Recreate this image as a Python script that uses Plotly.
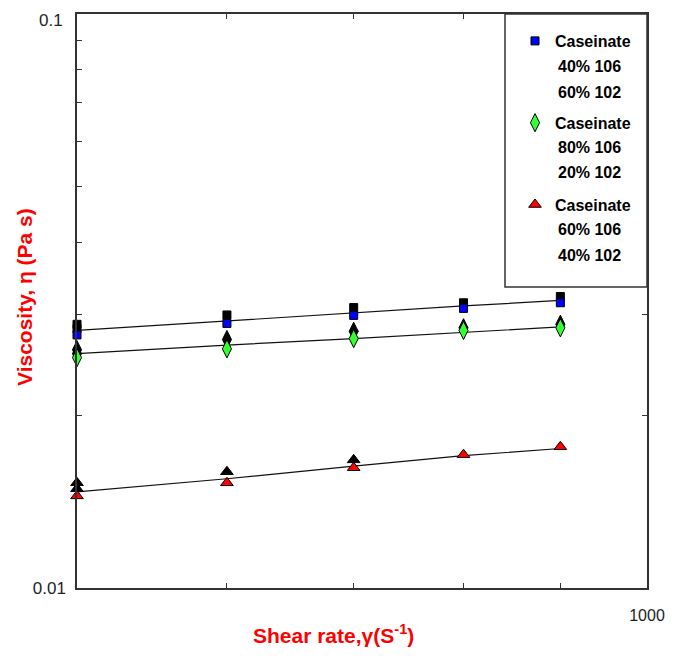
import plotly.graph_objects as go

# ---------------- data ----------------
shear_rate = [500, 600, 700, 800, 900]

# Caseinate 40% 106 / 60% 102 (blue squares)
blue_main = [0.0276, 0.0289, 0.02985, 0.0307, 0.0314]
blue_rep1 = [0.0288, 0.0299, 0.0308, 0.0314, 0.0322]
blue_rep2 = [0.0283, None, None, None, None]
blue_fit = [0.0281, 0.0292, 0.0302, 0.0310, 0.0317]

# Caseinate 80% 106 / 20% 102 (green diamonds)
green_main = [0.0252, 0.0261, 0.0272, 0.0281, 0.0284]
green_rep1 = [0.0260, 0.0271, 0.0280, 0.0284, 0.0288]
green_rep2 = [0.0256, None, None, None, None]
green_fit = [0.0256, 0.0265, 0.0272, 0.0279, 0.0285]

# Caseinate 60% 106 / 40% 102 (red triangles)
red_main = [0.01447, 0.01525, 0.0162, 0.01707, 0.01762]
red_rep1 = [0.01525, 0.01594, 0.01672, None, None]
red_rep2 = [0.01489, None, None, None, None]
red_fit = [0.0147, 0.0155, 0.0163, 0.0170, 0.0175]

legend_names = ["Caseinate", "Caseinate", "Caseinate"]
legend_sub = [["40% 106", "60% 102"], ["80% 106", "20% 102"], ["60% 106", "40% 102"]]

y_tickvals = [0.01]
y_ticktext = ["0.01"]
y_top_label = "0.1"
y_minorvals = [0.02, 0.03, 0.04, 0.05, 0.06, 0.07, 0.08, 0.09]
x_tickvals = [1000]
x_ticktext = ["1000"]
x_minorvals = [600, 700, 800, 900]

# ---------------- styling ----------------
FONT = "Liberation Sans"
series = [
    (blue_main, blue_rep1, blue_rep2, blue_fit, "square", 8, "#0000ff"),
    (green_main, green_rep1, green_rep2, green_fit, "diamond-tall", 13, "#33ff33"),
    (red_main, red_rep1, red_rep2, red_fit, "triangle-up", 11, "#ff0000"),
]

fig = go.Figure()

# fit lines
for i, (m, r1, r2, fit, sym, sz, col) in enumerate(series):
    fig.add_trace(go.Scatter(x=shear_rate, y=fit, mode="lines",
                             line=dict(color="#111111", width=1.2),
                             showlegend=False, hoverinfo="skip", cliponaxis=False))

# replicate (black) markers then coloured markers
for i, (m, r1, r2, fit, sym, sz, col) in enumerate(series):
    for rep in (r1, r2):
        fig.add_trace(go.Scatter(x=shear_rate, y=rep, mode="markers",
                                 marker=dict(symbol=sym, size=sz, color="black",
                                             line=dict(color="black", width=1)),
                                 showlegend=False, cliponaxis=False))
for i, (m, r1, r2, fit, sym, sz, col) in enumerate(series):
    fig.add_trace(go.Scatter(x=shear_rate, y=m, mode="markers", name=legend_names[i],
                             legendgroup=f"g{i}",
                             marker=dict(symbol=sym, size=sz, color=col,
                                         line=dict(color="black", width=1)),
                             cliponaxis=False))

# page body has an 8px margin: figure occupies page x 8..683, y 8..658
OFF = 8
W, H = 683 - OFF, 658 - OFF
PL, PR, PT, PB = 77, 647, 14, 588          # plot area in page pixels
L, R, T, B = PL - OFF, OFF + W - PR, PT - OFF, OFF + H - PB
pw, ph = PR - PL, PB - PT


def px(xp):
    return (xp - PL) / pw


def py(yp):
    return (PB - yp) / ph


annotations = []
# top y tick label (kept inside the page)
annotations.append(dict(x=px(65), y=py(9), xref="paper", yref="paper", text=y_top_label,
                        showarrow=False, xanchor="right", yanchor="top",
                        font=dict(family=FONT, size=17, color="#222222")))
# legend sub-lines
sub_y = [[66, 92], [147, 173], [229, 255]]
for g in range(3):
    for k in range(2):
        annotations.append(dict(x=px(556), y=py(sub_y[g][k]), xref="paper", yref="paper",
                                text=legend_sub[g][k], showarrow=False, xanchor="left",
                                yanchor="middle",
                                font=dict(family=FONT, size=16, color="black", weight="bold")))
# axis titles
annotations.append(dict(x=px(25), y=py(297), xref="paper", yref="paper",
                        text="Viscosity, η (Pa s)", textangle=-90, showarrow=False,
                        xanchor="center", yanchor="middle",
                        font=dict(family=FONT, size=21, color="#ff0000", weight="bold")))
annotations.append(dict(x=px(333), y=py(634), xref="paper", yref="paper",
                        text="Shear rate,γ(S<sup>-1</sup>)", showarrow=False,
                        xanchor="center", yanchor="middle",
                        font=dict(family=FONT, size=21, color="#ff0000", weight="bold")))

fig.update_layout(
    width=W, height=H,
    margin=dict(l=L, r=R, t=T, b=B, autoexpand=False),
    paper_bgcolor="white", plot_bgcolor="white",
    showlegend=True,
    legend=dict(x=px(515), y=py(24), xanchor="left", yanchor="top",
                bgcolor="rgba(0,0,0,0)", borderwidth=0, tracegroupgap=58,
                font=dict(family=FONT, size=16, color="black", weight="bold")),
    annotations=annotations,
    shapes=[dict(type="rect", xref="paper", yref="paper", x0=px(505), x1=1,
                 y0=py(287), y1=1, line=dict(color="#333333", width=1.5),
                 fillcolor="white", layer="above")],
)
fig.update_xaxes(type="log", range=[2.69897, 3.0], tickvals=x_tickvals, ticktext=x_ticktext,
                 ticks="inside", ticklen=5, tickcolor="#333333", tickwidth=1,
                 minor=dict(tickvals=x_minorvals, ticks="inside", ticklen=5,
                            tickcolor="#333333", tickwidth=1, showgrid=False),
                 showline=True, linecolor="#333333", linewidth=1.5, mirror="ticks",
                 showgrid=False, zeroline=False, ticklabelstandoff=12,
                 ticklabeloverflow="allow", automargin=False,
                 tickfont=dict(family=FONT, size=16, color="#222222"))
fig.update_yaxes(type="log", range=[-2, -1], tickvals=y_tickvals, ticktext=y_ticktext,
                 ticks="inside", ticklen=5, tickcolor="#333333", tickwidth=1,
                 minor=dict(tickvals=y_minorvals, ticks="inside", ticklen=5,
                            tickcolor="#333333", tickwidth=1, showgrid=False),
                 showline=True, linecolor="#333333", linewidth=1.5, mirror="ticks",
                 showgrid=False, zeroline=False, ticklabelstandoff=6,
                 ticklabeloverflow="allow", automargin=False,
                 tickfont=dict(family=FONT, size=17, color="#222222"))

fig.write_html("out.html")
